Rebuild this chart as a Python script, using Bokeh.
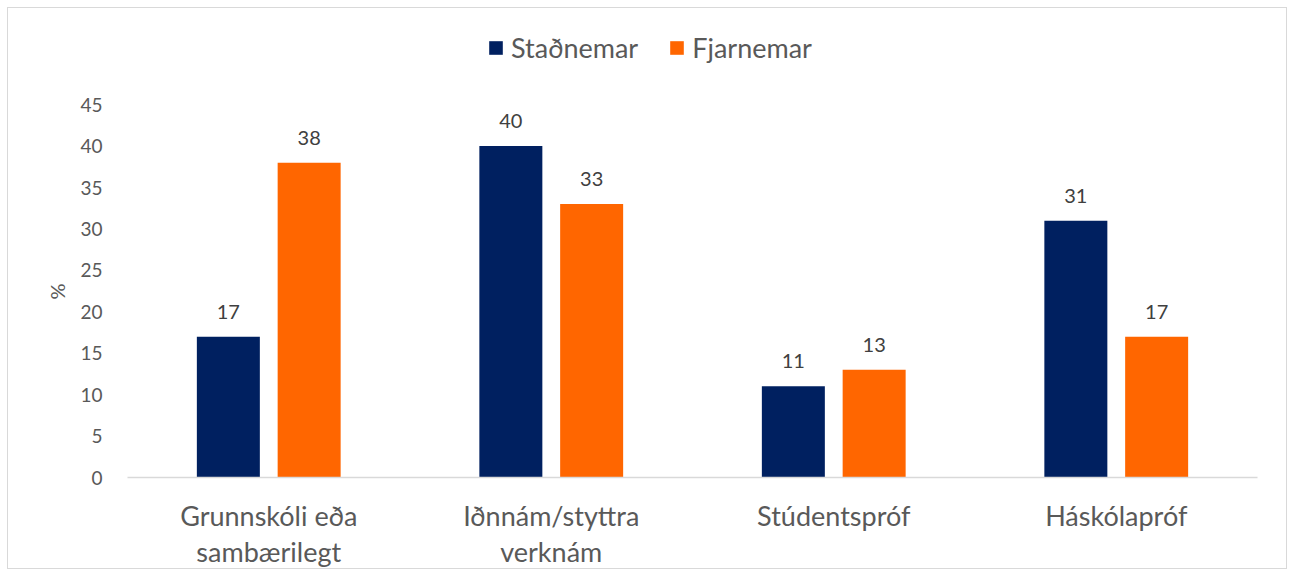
from bokeh.plotting import figure
from bokeh.models import ColumnDataSource, FactorRange, Range1d, LabelSet, Legend, LegendItem, FixedTicker, Title
from bokeh.transform import dodge
from bokeh.core.properties import value
from bokeh.embed import file_html
from bokeh.resources import INLINE

categories = ["Grunnskóli eða\nsambærilegt", "Iðnnám/styttra\nverknám", "Stúdentspróf", "Háskólapróf"]
stadnemar = [17, 40, 11, 31]
fjarnemar = [38, 33, 13, 17]
series_names = ["Staðnemar", "Fjarnemar"]
y_ticks = [0, 5, 10, 15, 20, 25, 30, 35, 40, 45]
y_title = "%"

C_BLUE = "#002060"
C_ORANGE = "#FF6600"
FONT = "Lato"

src = ColumnDataSource(dict(
    cat=categories,
    s=stadnemar,
    f=fjarnemar,
    s_lab=[str(v) for v in stadnemar],
    f_lab=[str(v) for v in fjarnemar],
))

# y range extends above 45 to leave room for the legend inside the frame
p = figure(
    x_range=FactorRange(*categories, range_padding=0),
    y_range=Range1d(0, 55.4),
    width=1280, height=562,
    output_backend="svg", toolbar_location=None,
    min_border_left=119, min_border_right=31, min_border_top=10, min_border_bottom=89,
)
p.styles = {"border": "1.5px solid #d9d9d9", "margin-left": "7px", "margin-top": "7px"}
p.outline_line_color = None
p.grid.visible = False
p.background_fill_color = "white"

r1 = p.vbar(x=dodge("cat", -0.143, range=p.x_range), top="s", width=0.223, source=src,
            fill_color=C_BLUE, line_color=None)
r2 = p.vbar(x=dodge("cat", 0.143, range=p.x_range), top="f", width=0.223, source=src,
            fill_color=C_ORANGE, line_color=None)

for col, lab, off in (("s", "s_lab", -0.143), ("f", "f_lab", 0.143)):
    ls = LabelSet(x=dodge("cat", off, range=p.x_range), y=col, text=lab, source=src,
                  text_align="center", text_baseline="middle", y_offset=25,
                  text_font=value(FONT), text_font_size="20px", text_color="#404040")
    p.add_layout(ls)

p.yaxis.ticker = FixedTicker(ticks=y_ticks)
p.yaxis.axis_line_color = None
p.yaxis.major_tick_line_color = None
p.yaxis.major_tick_out = 0
p.yaxis.minor_tick_line_color = None
p.yaxis.major_label_standoff = 25
p.yaxis.major_label_text_font = FONT
p.yaxis.major_label_text_font_size = "19px"
p.yaxis.major_label_text_color = "#595959"

ytitle = Title(text=y_title, align="left", offset=178, vertical_align="middle",
               text_font=FONT, text_font_size="20px", text_font_style="normal",
               text_color="#595959", standoff=16)
p.add_layout(ytitle, "left")

p.xaxis.axis_line_color = "#d9d9d9"
p.xaxis.axis_line_width = 1.5
p.xaxis.major_tick_line_color = None
p.xaxis.major_tick_out = 0
p.xaxis.minor_tick_line_color = None
p.xaxis.major_label_standoff = 21
p.xaxis.major_label_text_font = FONT
p.xaxis.major_label_text_font_size = "27px"
p.xaxis.major_label_text_color = "#595959"
p.xaxis.major_label_text_line_height = 1.1

legend = Legend(items=[LegendItem(label=series_names[0], renderers=[r1]),
                       LegendItem(label=series_names[1], renderers=[r2])],
                orientation="horizontal", location=(360, 413),
                glyph_width=17, glyph_height=17, label_text_font=FONT,
                label_text_font_size="27px", label_text_color="#595959",
                spacing=30, padding=0, margin=0, label_standoff=7,
                border_line_color=None, background_fill_alpha=0)
p.add_layout(legend, "center")

open("out.html", "w").write(file_html(p, INLINE))
